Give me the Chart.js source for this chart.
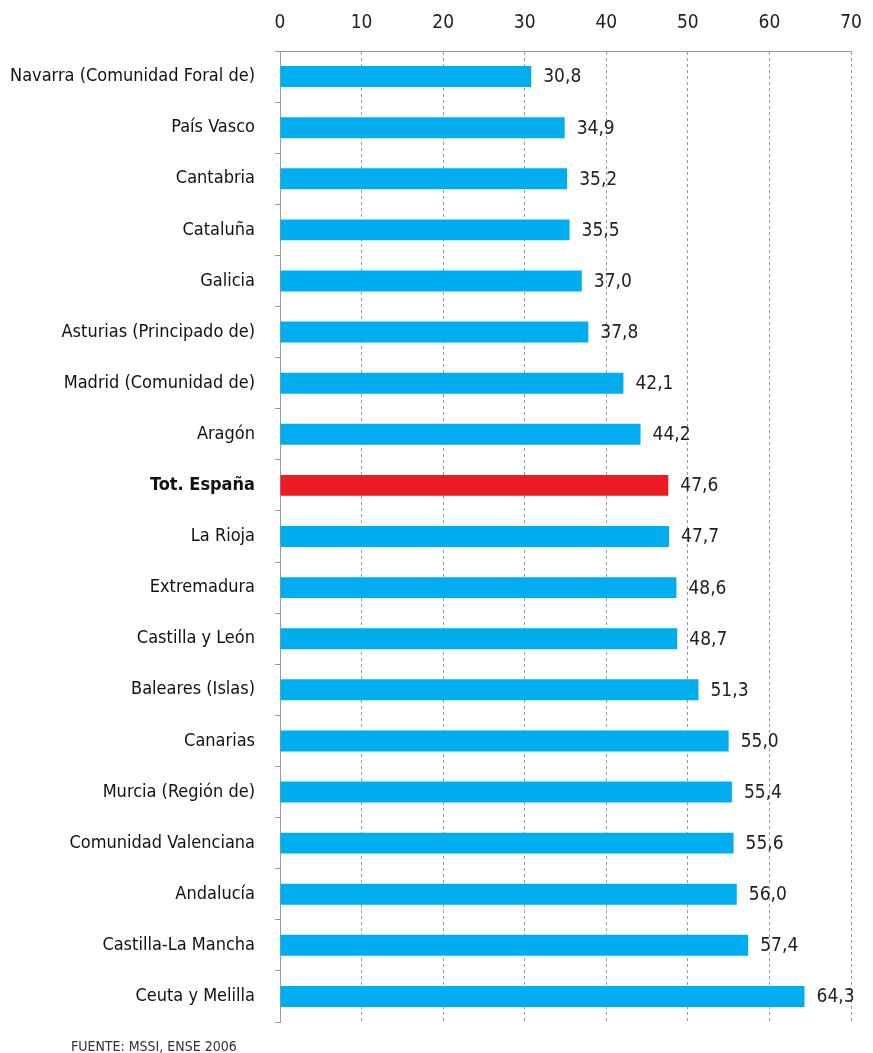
<!DOCTYPE html>
<html>
<head>
<meta charset="utf-8">
<script src="https://cdn.jsdelivr.net/npm/chart.js@4/dist/chart.umd.min.js"></script>
<style>
html,body{margin:0;padding:0;background:#fff;}
#wrap{position:relative;width:873px;height:1053px;}
</style>
</head>
<body>
<div id="wrap"><canvas id="c" width="873" height="1053"></canvas></div>
<script>
const categories = [
  "Navarra (Comunidad Foral de)", "País Vasco", "Cantabria", "Cataluña", "Galicia",
  "Asturias (Principado de)", "Madrid (Comunidad de)", "Aragón", "Tot. España", "La Rioja",
  "Extremadura", "Castilla y León", "Baleares (Islas)", "Canarias", "Murcia (Región de)",
  "Comunidad Valenciana", "Andalucía", "Castilla-La Mancha", "Ceuta y Melilla"
];
const values = [30.8, 34.9, 35.2, 35.5, 37.0, 37.8, 42.1, 44.2, 47.6, 47.7, 48.6, 48.7, 51.3, 55.0, 55.4, 55.6, 56.0, 57.4, 64.3];
const xTicks = [0, 10, 20, 30, 40, 50, 60, 70];
const highlight = "Tot. España";
const sourceText = "FUENTE: MSSI, ENSE 2006";

const BLUE = "#00AEEF", RED = "#ED1C24";
const FONT = "'DejaVu Sans Condensed', 'Liberation Sans Narrow', sans-serif";

const valueLabels = {
  id: 'valueLabels',
  afterDatasetsDraw(chart) {
    const ctx = chart.ctx;
    const meta = chart.getDatasetMeta(0);
    ctx.save();
    ctx.font = "19px " + FONT;
    ctx.fillStyle = "#222";
    ctx.textAlign = "left";
    ctx.textBaseline = "middle";
    meta.data.forEach((bar, i) => {
      ctx.fillText(values[i].toFixed(1).replace('.', ','), bar.x + 12, bar.y + 1);
    });
    ctx.font = "14px " + FONT;
    ctx.fillStyle = "#333";
    ctx.textBaseline = "alphabetic";
    ctx.fillText(sourceText, 71, 1051);
    ctx.restore();
  }
};

new Chart(document.getElementById('c'), {
  type: 'bar',
  data: {
    labels: categories,
    datasets: [{
      data: values,
      backgroundColor: categories.map(c => c === highlight ? RED : BLUE),
      barPercentage: 0.41,
      categoryPercentage: 1.0,
      borderWidth: 0
    }]
  },
  options: {
    indexAxis: 'y',
    responsive: false,
    animation: false,
    devicePixelRatio: 1,
    layout: { padding: { left: 0, right: 22, top: 0, bottom: 31 } },
    plugins: { legend: { display: false }, tooltip: { enabled: false } },
    scales: {
      x: {
        position: 'top',
        min: 0, max: 70,
        afterFit(s) { s.height = 51; s.paddingLeft = 0; s.paddingRight = 0; },
        afterBuildTicks(s) { s.ticks = xTicks.map(v => ({ value: v })); },
        ticks: { font: { family: FONT, size: 19 }, color: '#222', padding: 17 },
        grid: { color: '#9a9a9a', lineWidth: 1, drawTicks: false, tickLength: 0 },
        border: { display: true, color: '#9a9a9a', width: 1, dash: [3, 3] }
      },
      y: {
        afterFit(s) { s.width = 280; s.paddingTop = 0; s.paddingBottom = 0; },
        ticks: {
          font: ctx => ({ family: FONT, size: 18, weight: categories[ctx.index] === highlight ? 'bold' : 'normal' }),
          color: '#111',
          padding: 20,
          autoSkip: false
        },
        grid: { offset: true, drawOnChartArea: false, color: '#9a9a9a', tickLength: 5 },
        border: { display: true, color: '#9a9a9a', width: 1 }
      }
    }
  },
  plugins: [valueLabels]
});
</script>
</body>
</html>
